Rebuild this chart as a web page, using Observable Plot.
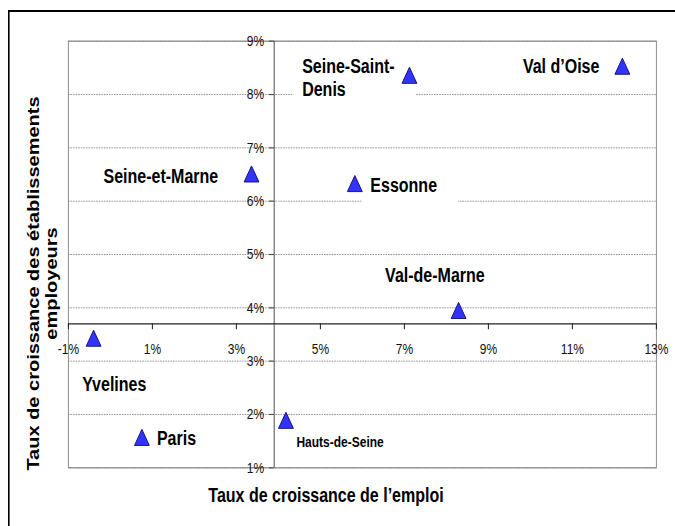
<!DOCTYPE html>
<html><head><meta charset="utf-8">
<script src="https://cdn.jsdelivr.net/npm/d3@7"></script>
<script src="https://cdn.jsdelivr.net/npm/@observablehq/plot@0.6"></script>
<style>
html,body{margin:0;padding:0;background:#fff;overflow:hidden;width:675px;height:526px;}
#stage{position:absolute;left:0;top:0;width:844px;height:526px;transform:scale(0.8,1);transform-origin:0 0;}
#chart{position:absolute;left:0;top:0;width:844px;height:526px;}
#chart svg{max-width:none !important;}
#border{position:absolute;left:10px;top:10px;width:900px;height:600px;border-left:2px solid #000;border-top:2px solid #000;}
</style></head><body>
<div id="stage"><div id="chart"></div><div id="border"></div></div>
<script>
// ---- data ----
const departements = ["Paris", "Hauts-de-Seine", "Seine-Saint-Denis", "Val-de-Marne", "Seine-et-Marne", "Yvelines", "Essonne", "Val d’Oise"];
const labels       = ["Paris", "Hauts-de-Seine", "Seine-Saint-\nDenis", "Val-de-Marne", "Seine-et-Marne", "Yvelines", "Essonne", "Val d’Oise"];
const emploi          = [0.75, 4.18, 7.12, 8.29, 3.36, -0.40, 5.82, 12.19]; // % growth of employment
const etablissements  = [1.52, 1.84, 8.31, 3.90, 6.46, 3.38, 6.28, 8.48];   // % growth of employing establishments
const xTicks = [-1, 1, 3, 5, 7, 9, 11, 13];
const yTicks = [1, 2, 3, 4, 5, 6, 7, 8, 9];
const xAxisCrossesAt = 3.7; // y value where the horizontal axis sits
const yAxisCrossesAt = 3.9; // x value where the vertical axis sits
const xTitle = "Taux de croissance de l’emploi";
const yTitle = "Taux de croissance des établissements\nemployeurs";

const data = departements.map((d, i) => ({name: d, label: labels[i], x: emploi[i], y: etablissements[i]}));

// label placement relative to each point (px)
const placement = {
  "Paris":             {anchor: "start",  dx: 18.75, dy: -2.4},
  "Yvelines":          {anchor: "start",  dx: -14.1, dy: 42.6},
  "Hauts-de-Seine":    {anchor: "start",  dx: 13.1,  dy: 18, size: 15},
  "Seine-et-Marne":    {anchor: "end",    dx: -41.6, dy: -1.2},
  "Essonne":           {anchor: "start",  dx: 19.4,  dy: -2},
  "Seine-Saint-Denis": {anchor: "start",  dx: -134.1, dy: -1.2},
  "Val d’Oise":        {anchor: "end",    dx: -28.75, dy: -3.7},
  "Val-de-Marne":      {anchor: "middle", dx: -29.6, dy: -38.7}
};

const font = "Arial, 'Liberation Sans', sans-serif";

const labelMarks = data.map(d => {
  const p = placement[d.name];
  return Plot.text([d], {
    x: "x", y: "y", text: "label", textAnchor: p.anchor, lineAnchor: "middle",
    dx: p.dx, dy: p.dy, fontWeight: "bold", fontSize: p.size || 20, lineHeight: 1.15, fill: "#000"
  });
});

const chart = Plot.plot({
  width: 844, height: 526,
  marginLeft: 85, marginRight: 24, marginTop: 40.7, marginBottom: 58.7,
  x: {domain: [-1, 13], axis: null},
  y: {domain: [1, 9], axis: null},
  style: {fontFamily: font, background: "white", overflow: "visible"},
  marks: [
    Plot.ruleY(yTicks, {stroke: "#8a8a8a", strokeDasharray: "2,1.2", strokeWidth: 1}),
    Plot.frame({stroke: "#8a8a8a", strokeWidth: 1.2}),
    Plot.ruleX([yAxisCrossesAt], {stroke: "#555", strokeWidth: 1.3}),
    Plot.ruleY(yTicks, {x1: yAxisCrossesAt, x2: yAxisCrossesAt, insetLeft: -6, stroke: "#555", strokeWidth: 1.2}),
    Plot.ruleY([xAxisCrossesAt], {stroke: "#222", strokeWidth: 1.2}),
    Plot.ruleX(xTicks, {y1: xAxisCrossesAt, y2: xAxisCrossesAt, insetBottom: -6, stroke: "#222", strokeWidth: 1.3}),
    Plot.text(yTicks, {x: yAxisCrossesAt, y: d => d, text: d => `${d}%`, textAnchor: "end", lineAnchor: "middle", dx: -12.5, fontSize: 15, fill: "#111"}),
    Plot.text(xTicks, {x: d => d, y: xAxisCrossesAt, text: d => `${d}%`, lineAnchor: "middle", dy: 25.7, fontSize: 15, fill: "#111"}),
    ...labelMarks,
    Plot.dot(data, {x: "x", y: "y", symbol: "triangle", r: 6.9, fill: "#3333ff", stroke: "#0a0a6a", strokeWidth: 1}),
    Plot.text([xTitle], {frameAnchor: "bottom", text: d => d, textAnchor: "middle", lineAnchor: "middle", dx: -45.5, dy: 27.7, fontSize: 20, fontWeight: "bold", fill: "#000"}),
    Plot.text([yTitle], {frameAnchor: "left", text: d => d, rotate: -90, textAnchor: "middle", lineAnchor: "middle", dx: -32.5, dy: 29, fontSize: 20, fontWeight: "bold", lineHeight: 1.15, fill: "#000"})
  ]
});

document.getElementById("chart").append(chart);

// white label boxes (Excel-style data-label fill)
const labelSet = new Set(labels.map(s => s.replace(/\n/g, "")));
chart.querySelectorAll("text").forEach(t => {
  if (!labelSet.has(t.textContent)) return;
  const b = t.getBBox();
  const r = document.createElementNS("http://www.w3.org/2000/svg", "rect");
  r.setAttribute("x", b.x - 11);
  r.setAttribute("y", b.y - 9);
  r.setAttribute("width", b.width + 37);
  r.setAttribute("height", b.height + 18);
  const tr = t.getAttribute("transform");
  if (tr) r.setAttribute("transform", tr);
  r.setAttribute("fill", "white");
  r.setAttribute("stroke", "none");
  t.parentNode.insertBefore(r, t);
});
</script>
</body></html>
